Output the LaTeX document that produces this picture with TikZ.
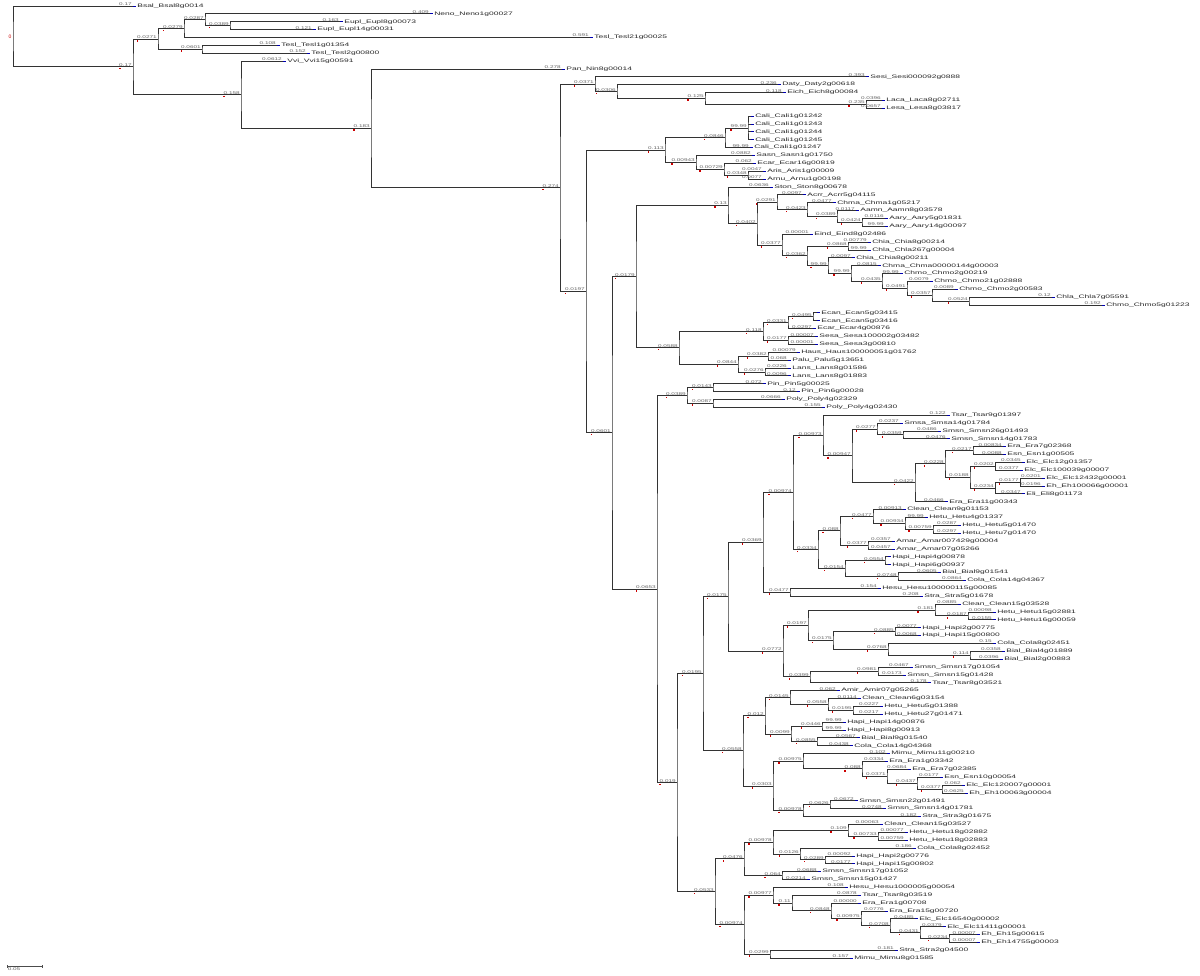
\documentclass[tikz,border=0pt]{standalone}
\usepackage{fontspec}
\setmainfont{Liberation Sans}
\usetikzlibrary{calc}

\newcommand{\lf}[5]{%
  \coordinate (#1) at (#3,{6+7.87*#2});
  \draw[tipmark] (#1) -- ++(3,0);
  \node[nametxt] at ([xshift=3.5pt]#1) {#5};
  \node[lentxt] at ([xshift=-0.5pt]#1) {#4};
}
\newcommand{\nd}[5]{%
  \path let \p1=($(#3)!.5!(#4)$) in coordinate (#1) at (#2pt,\y1);
  \draw[branch] (#3) -| (#1) |- (#4);
  \node[lentxt] (#1l) at ([xshift=-0.5pt]#1) {#5};
  \fill[nodemark] ([shift={(0.5,1)}]#1l.south west) rectangle ++(1.6,1.6);
}

\begin{document}
\begin{tikzpicture}[x=1pt,y=-1pt,
  branch/.style={draw=black!80,line width=0.9pt},
  tipmark/.style={draw=blue!70!black,line width=0.9pt},
  nodemark/.style={fill=red!80!black},
  lentxt/.style={anchor=south east,inner sep=0.3pt,font=\fontsize{4}{4}\selectfont,text=black!60,xscale=1.6},
  nametxt/.style={anchor=west,inner sep=0.3pt,font=\fontsize{5}{5}\selectfont,text=black!85,xscale=1.7},
  rootmark/.style={anchor=east,inner sep=0.5pt,font=\fontsize{5}{5}\selectfont,text=red!80!black}]
\fill[white] (0,0) rectangle (1200,976);
\useasboundingbox (0,0) rectangle (1200,976);

\lf{l0}{0}{133}{0.17}{Bsal\_Bsal8g0014}
\lf{l1}{1}{430}{0.409}{Neno\_Neno1g00027}
\lf{l2}{2}{340}{0.163}{Eupl\_Eupl8g00073}
\lf{l3}{3}{313}{0.121}{Eupl\_Eupl14g00031}
\lf{l4}{4}{590}{0.591}{Tesl\_Tesl21g00025}
\lf{l5}{5}{277}{0.108}{Tesl\_Tesl1g01354}
\lf{l6}{6}{307}{0.152}{Tesl\_Tesl2g00800}
\lf{l7}{7}{283}{0.0612}{Vvi\_Vvi15g00591}
\lf{l8}{8}{562}{0.278}{Pan\_Nin8g00014}
\lf{l9}{9}{866}{0.393}{Sesi\_Sesi000092g0888}
\lf{l10}{10}{778}{0.236}{Daty\_Daty2g00618}
\lf{l11}{11}{783}{0.118}{Eich\_Eich8g00084}
\lf{l12}{12}{882}{0.0396}{Laca\_Laca8g02711}
\lf{l13}{13}{882}{0.0657}{Lesa\_Lesa8g03817}
\lf{l14}{14}{751}{}{Cali\_Cali1g01242}
\lf{l15}{15}{751}{}{Cali\_Cali1g01243}
\lf{l16}{16}{751}{}{Cali\_Cali1g01244}
\lf{l17}{17}{751}{}{Cali\_Cali1g01245}
\lf{l18}{18}{750}{99.99}{Cali\_Cali1g01247}
\lf{l19}{19}{752}{0.0882}{Sasn\_Sasn1g01750}
\lf{l20}{20}{753}{0.062}{Ecar\_Ecar16g00819}
\lf{l21}{21}{763}{0.0047}{Aris\_Aris1g00009}
\lf{l22}{22}{763}{0.0077}{Arnu\_Arnu1g00198}
\lf{l23}{23}{770}{0.0636}{Ston\_Ston8g00678}
\lf{l24}{24}{803}{0.0097}{Acrr\_Acrr5g04115}
\lf{l25}{25}{833}{0.0477}{Chma\_Chma1g05217}
\lf{l26}{26}{856}{0.0117}{Aamn\_Aamn8g03578}
\lf{l27}{27}{885}{0.0116}{Aary\_Aary5g01831}
\lf{l28}{28}{885}{99.99}{Aary\_Aary14g00097}
\lf{l29}{29}{810}{0.00001}{Eind\_Eind8g02486}
\lf{l30}{30}{868}{0.00779}{Chia\_Chia8g00214}
\lf{l31}{31}{868}{99.99}{Chla\_Chla267g00004}
\lf{l32}{32}{852}{0.0097}{Chia\_Chia8g00211}
\lf{l33}{33}{878}{0.0815}{Chma\_Chma00000144g00003}
\lf{l34}{34}{900}{99.99}{Chmo\_Chmo2g00219}
\lf{l35}{35}{930}{0.0079}{Chmo\_Chmo21g02888}
\lf{l36}{36}{955}{0.0089}{Chmo\_Chmo2g00583}
\lf{l37}{37}{1052}{0.12}{Chla\_Chla7g05591}
\lf{l38}{38}{1102}{0.192}{Chmo\_Chmo5g01223}
\lf{l39}{39}{817}{}{Ecan\_Ecan5g03415}
\lf{l40}{40}{817}{}{Ecan\_Ecan5g03416}
\lf{l41}{41}{813}{0.0297}{Ecar\_Ecar4g00876}
\lf{l42}{42}{815}{0.00007}{Sesa\_Sesa100002g03482}
\lf{l43}{43}{815}{0.00001}{Sesa\_Sesa3g00810}
\lf{l44}{44}{797}{0.00079}{Haus\_Haus100000051g01762}
\lf{l45}{45}{788}{0.068}{Palu\_Palu5g13651}
\lf{l46}{46}{788}{0.0226}{Lans\_Lans8g01586}
\lf{l47}{47}{788}{0.0096}{Lans\_Lans8g01883}
\lf{l48}{48}{763}{0.072}{Pin\_Pin5g00025}
\lf{l49}{49}{797}{0.12}{Pin\_Pin6g00028}
\lf{l50}{50}{782}{0.0666}{Poly\_Poly4g02329}
\lf{l51}{51}{822}{0.155}{Poly\_Poly4g02430}
\lf{l52}{52}{947}{0.122}{Tsar\_Tsar9g01397}
\lf{l53}{53}{900}{0.0237}{Smsa\_Smsa14g01784}
\lf{l54}{54}{938}{0.0486}{Smsn\_Smsn26g01493}
\lf{l55}{55}{947}{0.0476}{Smsn\_Smsn14g01783}
\lf{l56}{56}{1003}{0.00834}{Era\_Era7g02368}
\lf{l57}{57}{1003}{0.0088}{Esn\_Esn1g00505}
\lf{l58}{58}{1022}{0.0345}{Elc\_Elc12g01357}
\lf{l59}{59}{1020}{0.0377}{Elc\_Elc100039g00007}
\lf{l60}{60}{1042}{0.0201}{Elc\_Elc12432g00001}
\lf{l61}{61}{1042}{0.0196}{Eh\_Eh100066g00001}
\lf{l62}{62}{1022}{0.0347}{Eli\_Eli8g01173}
\lf{l63}{63}{945}{0.0466}{Era\_Era11g00343}
\lf{l64}{64}{903}{0.00913}{Clean\_Clean9g01153}
\lf{l65}{65}{925}{99.99}{Hetu\_Hetu4g01337}
\lf{l66}{66}{958}{0.0287}{Hetu\_Hetu5g01470}
\lf{l67}{67}{958}{0.0297}{Hetu\_Hetu7g01470}
\lf{l68}{68}{892}{0.0357}{Amar\_Amar007429g00004}
\lf{l69}{69}{892}{0.0457}{Amar\_Amar07g05266}
\lf{l70}{70}{888}{}{Hapi\_Hapi4g00878}
\lf{l71}{71}{888}{}{Hapi\_Hapi6g00937}
\lf{l72}{72}{938}{0.0605}{Bial\_Bial9g01541}
\lf{l73}{73}{963}{0.0864}{Cola\_Cola14g04367}
\lf{l74}{74}{878}{0.154}{Hesu\_Hesu100000115g00085}
\lf{l75}{75}{920}{0.208}{Stra\_Stra5g01678}
\lf{l76}{76}{958}{0.0885}{Clean\_Clean15g03528}
\lf{l77}{77}{993}{0.00098}{Hetu\_Hetu15g02881}
\lf{l78}{78}{993}{0.0155}{Hetu\_Hetu16g00059}
\lf{l79}{79}{918}{0.0077}{Hapi\_Hapi2g00775}
\lf{l80}{80}{918}{0.0068}{Hapi\_Hapi15g00800}
\lf{l81}{81}{993}{0.15}{Cola\_Cola8g02451}
\lf{l82}{82}{1002}{0.0358}{Bial\_Bial4g01889}
\lf{l83}{83}{1000}{0.0396}{Bial\_Bial2g00883}
\lf{l84}{84}{910}{0.0467}{Smsn\_Smsn17g01054}
\lf{l85}{85}{903}{0.0173}{Smsn\_Smsn15g01428}
\lf{l86}{86}{928}{0.178}{Tsar\_Tsar8g03521}
\lf{l87}{87}{837}{0.062}{Amir\_Amir07g05265}
\lf{l88}{88}{858}{0.0114}{Clean\_Clean6g03154}
\lf{l89}{89}{880}{0.0227}{Hetu\_Hetu5g01388}
\lf{l90}{90}{880}{0.0217}{Hetu\_Hetu27g01471}
\lf{l91}{91}{843}{99.99}{Hapi\_Hapi14g00876}
\lf{l92}{92}{843}{99.99}{Hapi\_Hapi8g00913}
\lf{l93}{93}{857}{0.0567}{Bial\_Bial9g01540}
\lf{l94}{94}{850}{0.0438}{Cola\_Cola14g04368}
\lf{l95}{95}{887}{0.102}{Mimu\_Mimu11g00210}
\lf{l96}{96}{885}{0.0334}{Era\_Era1g03342}
\lf{l97}{97}{908}{0.0684}{Era\_Era7g02385}
\lf{l98}{98}{940}{0.0177}{Esn\_Esn10g00054}
\lf{l99}{99}{962}{0.062}{Elc\_Elc120007g00001}
\lf{l100}{100}{965}{0.0625}{Eh\_Eh100063g00004}
\lf{l101}{101}{855}{0.0672}{Smsn\_Smsn22g01491}
\lf{l102}{102}{883}{0.0748}{Smsn\_Smsn14g01781}
\lf{l103}{103}{918}{0.182}{Stra\_Stra3g01675}
\lf{l104}{104}{880}{0.00063}{Clean\_Clean15g03527}
\lf{l105}{105}{905}{0.00077}{Hetu\_Hetu18g02882}
\lf{l106}{106}{905}{0.00759}{Hetu\_Hetu18g02883}
\lf{l107}{107}{913}{0.186}{Cola\_Cola8g02452}
\lf{l108}{108}{852}{0.00092}{Hapi\_Hapi2g00776}
\lf{l109}{109}{852}{0.0177}{Hapi\_Hapi15g00802}
\lf{l110}{110}{818}{0.0688}{Smsn\_Smsn17g01052}
\lf{l111}{111}{807}{0.0214}{Smsn\_Smsn15g01427}
\lf{l112}{112}{845}{0.108}{Hesu\_Hesu1000005g00054}
\lf{l113}{113}{858}{0.0878}{Tsar\_Tsar8g03519}
\lf{l114}{114}{858}{0.00000}{Era\_Era1g00708}
\lf{l115}{115}{885}{0.0776}{Era\_Era15g00720}
\lf{l116}{116}{915}{0.0485}{Elc\_Elc16540g00002}
\lf{l117}{117}{943}{0.0379}{Elc\_Elc11411g00001}
\lf{l118}{118}{977}{0.00007}{Eh\_Eh15g00615}
\lf{l119}{119}{977}{0.00007}{Eh\_Eh14755g00003}
\lf{l120}{120}{895}{0.181}{Stra\_Stra2g04500}
\lf{l121}{121}{850}{0.157}{Mimu\_Mimu8g01585}

\nd{n5}{230}{l2}{l3}{0.0389}
\nd{n4}{205}{l1}{n5}{0.0287}
\nd{n3}{184}{n4}{l4}{0.0279}
\nd{n6}{202}{l5}{l6}{0.0601}
\nd{n2}{158}{n3}{n6}{0.0271}

\nd{nV}{866}{l12}{l13}{0.235}
\nd{nU}{705}{l11}{nV}{0.125}
\nd{nT}{617}{l10}{nU}{0.0306}
\nd{nS}{595}{l9}{nT}{0.0371}

\path let \p1=($(l14)!.5!(l17)$) in coordinate (nG) at (748pt,\y1);
\draw[branch] (l14) -| (nG) |- (l17);
\draw[branch] (l15) -- (l15 -| nG);
\draw[branch] (l16) -- (l16 -| nG);
\node[lentxt] (nGl) at ([xshift=-0.5pt]nG) {99.99};
\fill[nodemark] ([shift={(0.5,1)}]nGl.south west) rectangle ++(1.6,1.6);

\nd{nD}{725}{nG}{l18}{0.0846}
\nd{nI}{748}{l21}{l22}{0.0348}
\nd{nH}{724}{l20}{nI}{0.00729}
\nd{nF}{696}{l19}{nH}{0.00943}
\nd{nE}{665}{nD}{nF}{0.113}
\nd{nR2}{862}{l27}{l28}{0.0424}
\nd{nR}{837}{l26}{nR2}{0.0389}
\nd{nQ}{807}{l25}{nR}{0.0423}
\nd{nO}{777}{l24}{nQ}{0.0291}
\nd{nAD}{969}{l37}{l38}{0.0524}
\nd{nAC}{932}{l36}{nAD}{0.0357}
\nd{nAB}{907}{l35}{nAC}{0.0491}
\nd{nAA}{882}{l34}{nAB}{0.0435}
\nd{nZ}{851}{l33}{nAA}{99.99}
\nd{nY}{828}{l32}{nZ}{99.99}
\nd{nX}{848}{l30}{l31}{0.0868}
\nd{nW}{807}{nX}{nY}{0.0362}
\nd{nP}{782}{l29}{nW}{0.0377}
\nd{nN}{757}{nO}{nP}{0.0402}
\nd{nL}{728}{l23}{nN}{0.13}
\nd{nAI}{813}{l39}{l40}{0.0495}
\nd{nAG}{788}{nAI}{l41}{0.0331}
\nd{nAH}{788}{l42}{l43}{0.0177}
\nd{nAE}{763}{nAG}{nAH}{0.118}
\nd{nAJ}{768}{l44}{l45}{0.0382}
\nd{nAK}{765}{l46}{l47}{0.0276}
\nd{nAF}{738}{nAJ}{nAK}{0.0844}
\nd{nM}{679}{nAE}{nAF}{0.0588}
\nd{nJ}{636}{nL}{nM}{0.0179}
\nd{nAN}{713}{l48}{l49}{0.0143}
\nd{nAO}{713}{l50}{l51}{0.0087}
\nd{nAL}{687}{nAN}{nAO}{0.0389}

\nd{nBB}{903}{l54}{l55}{0.0359}
\nd{nAZ}{877}{l53}{nBB}{0.0277}
\nd{nBD}{973}{l56}{l57}{0.0217}
\nd{nBF}{995}{l58}{l59}{0.0202}
\nd{nBH}{1020}{l60}{l61}{0.0177}
\nd{nBG}{995}{nBH}{l62}{0.0234}
\nd{nBE}{970}{nBF}{nBG}{0.0188}
\nd{nBC}{945}{nBD}{nBE}{0.0228}
\nd{nBA}{915}{nBC}{l63}{0.0422}
\nd{nAY}{852}{nAZ}{nBA}{0.00947}
\nd{nAW}{823}{l52}{nAY}{0.00973}
\nd{nBN}{933}{l66}{l67}{0.00759}
\nd{nBM}{905}{l65}{nBN}{0.00934}
\nd{nBK}{873}{l64}{nBM}{0.0477}
\nd{nBL}{868}{l68}{l69}{0.0377}
\nd{nBI}{840}{nBK}{nBL}{0.088}
\nd{nBO}{885}{l70}{l71}{0.0554}
\nd{nBP}{898}{l72}{l73}{0.0748}
\nd{nBJ}{845}{nBO}{nBP}{0.0154}
\nd{nAX}{818}{nBI}{nBJ}{0.0334}
\nd{nAU}{793}{nAW}{nAX}{0.00974}
\nd{nAV}{790}{l74}{l75}{0.0477}
\nd{nP1}{763}{nAU}{nAV}{0.0369}
\nd{nBU}{968}{l77}{l78}{0.0187}
\nd{nBS}{935}{l76}{nBU}{0.181}
\nd{nBV}{895}{l79}{l80}{0.0885}
\nd{nBX}{970}{l82}{l83}{0.114}
\nd{nBW}{888}{l81}{nBX}{0.0768}
\nd{nBT}{833}{nBV}{nBW}{0.0175}
\nd{nBQ}{808}{nBS}{nBT}{0.0197}
\nd{nBY}{878}{l84}{l85}{0.0981}
\nd{nBR}{810}{nBY}{l86}{0.0399}
\nd{nAT}{783}{nBQ}{nBR}{0.0772}
\nd{nAR}{728}{nP1}{nAT}{0.0175}
\nd{nCE}{853}{l89}{l90}{0.0195}
\nd{nCD}{828}{l88}{nCE}{0.0558}
\nd{nCB}{790}{l87}{nCD}{0.0145}
\nd{nCF}{822}{l91}{l92}{0.0446}
\nd{nCG}{817}{l93}{l94}{0.0855}
\nd{nCC}{791}{nCF}{nCG}{0.0099}
\nd{nBZ}{765}{nCB}{nCC}{0.012}
\nd{nCM}{942}{l99}{l100}{0.0377}
\nd{nCL}{917}{l98}{nCM}{0.0437}
\nd{nCK}{887}{l97}{nCL}{0.0371}
\nd{nCJ}{862}{l96}{nCK}{0.088}
\nd{nCH}{803}{l95}{nCJ}{0.00975}
\nd{nCN}{830}{l101}{l102}{0.0626}
\nd{nCI}{803}{nCN}{l103}{0.00978}
\nd{nCA}{773}{nCH}{nCI}{0.0303}
\nd{nAS}{743}{nBZ}{nCA}{0.0558}
\nd{nAP}{703}{nAR}{nAS}{0.0195}
\nd{nCU}{878}{l105}{l106}{0.00733}
\nd{nCS}{848}{l104}{nCU}{0.109}
\nd{nCV}{825}{l108}{l109}{0.0289}
\nd{nCT}{800}{l107}{nCV}{0.0126}
\nd{nCQ}{773}{nCS}{nCT}{0.00978}
\nd{nCR}{782}{l110}{l111}{0.064}
\nd{nCO}{744}{nCQ}{nCR}{0.0476}
\nd{nDD}{949}{l118}{l119}{0.0234}
\nd{nDC}{920}{l117}{nDD}{0.0431}
\nd{nDB}{890}{l116}{nDC}{0.0708}
\nd{nDA}{861}{l115}{nDB}{0.00975}
\nd{nCZ}{831}{l114}{nDA}{0.0848}
\nd{nCY}{792}{l113}{nCZ}{0.11}
\nd{nCW}{773}{l112}{nCY}{0.00977}
\nd{nCX}{770}{l120}{l121}{0.0299}
\nd{nCP}{744}{nCW}{nCX}{0.00974}
\nd{nAQ}{715}{nCO}{nCP}{0.0533}
\nd{nAM}{677}{nAP}{nAQ}{0.019}
\nd{nK}{657}{nAL}{nAM}{0.0653}
\nd{nC}{612}{nJ}{nK}{0.0601}
\nd{nB}{586}{nE}{nC}{0.0197}
\nd{nA}{560}{nS}{nB}{0.274}
\nd{n8}{371}{l8}{nA}{0.183}
\nd{n7}{241}{l7}{n8}{0.158}
\nd{n1}{133}{n2}{n7}{0.17}

\path let \p1=($(l0)!.5!(n1)$) in coordinate (root) at (13pt,\y1);
\draw[branch] (l0) -| (root) |- (n1);
\node[rootmark] at ([xshift=-1pt]root) {0};

\coordinate (sbl) at (7,966);
\coordinate (sbr) at (42,966);
\draw[draw=black!70,line width=0.6pt] (sbl) -- (sbr);
\draw[draw=black!70,line width=0.6pt] ([yshift=-1.5pt]sbl) -- ([yshift=1.5pt]sbl);
\draw[draw=black!70,line width=0.6pt] ([yshift=-1.5pt]sbr) -- ([yshift=1.5pt]sbr);
\node[lentxt,anchor=north west] at ([yshift=-1pt]sbl) {0.05};
\end{tikzpicture}
\end{document}
